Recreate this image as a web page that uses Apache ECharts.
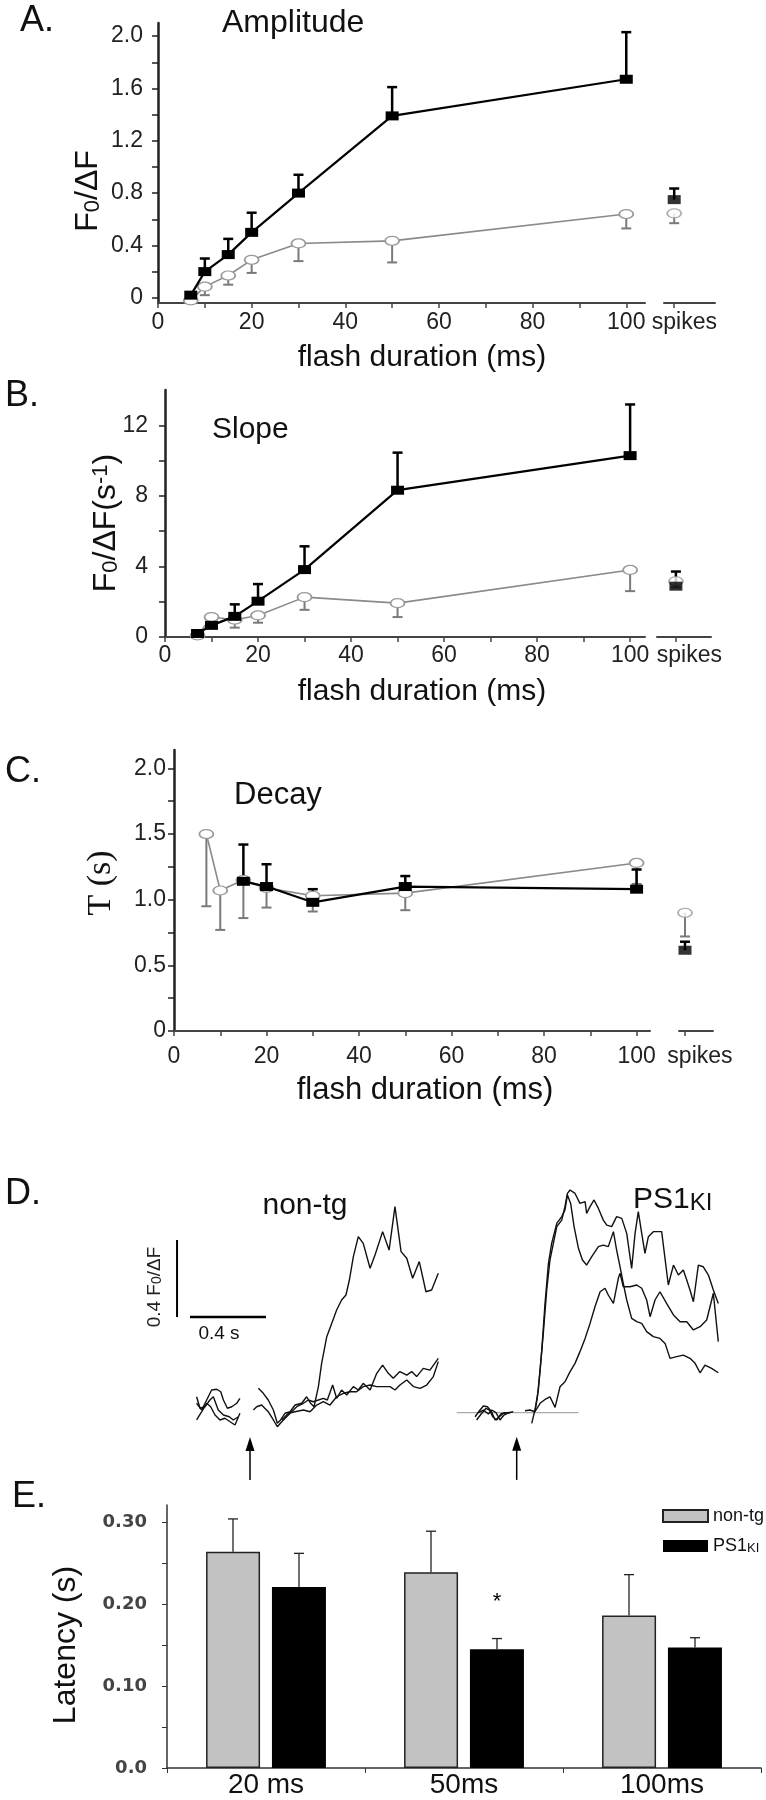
<!DOCTYPE html>
<html><head><meta charset="utf-8">
<script src="https://cdn.jsdelivr.net/npm/echarts@6/dist/echarts.min.js"></script>
<style>html,body{margin:0;padding:0;background:#fff}#c{width:766px;height:1800px}</style>
</head><body><div id="c"></div>
<script>
// ---------------- DATA ----------------
// Panel A: amplitude
var durA = [7, 10, 15, 20, 30, 50, 100];
var ampKI = [0.02, 0.20, 0.33, 0.50, 0.80, 1.39, 1.67];
var ampKIsem = [0.01, 0.10, 0.12, 0.15, 0.14, 0.22, 0.36];
var ampNT = [-0.02, 0.085, 0.17, 0.29, 0.415, 0.435, 0.64];
var ampNTsem = [0.02, 0.065, 0.07, 0.10, 0.135, 0.165, 0.11];
var ampSpkKI = 0.75, ampSpkKIsem = 0.085;
var ampSpkNT = 0.645, ampSpkNTsem = 0.075;
// Panel B: slope
var durB = [7, 10, 15, 20, 30, 50, 100];
var slopeKI = [0.2, 0.66, 1.17, 2.03, 3.82, 8.32, 10.28];
var slopeKIsem = [0.1, 0.43, 0.68, 0.97, 1.32, 2.13, 2.90];
var slopeNT = [0.09, 1.13, 0.98, 1.22, 2.26, 1.92, 3.80];
var slopeNTsem = [0.05, 0.5, 0.45, 0.41, 0.72, 0.79, 1.2];
var slopeSpkKI = 2.88, slopeSpkKIsem = 0.83;
var slopeSpkNT = 3.16, slopeSpkNTsem = 0.35;
// Panel C: decay
var durCNT = [7, 10, 15, 20, 30, 50, 100];
var decayNT = [1.50, 1.07, 1.15, 1.09, 1.03, 1.05, 1.28];
var decayNTsem = [0.55, 0.30, 0.29, 0.15, 0.12, 0.13, 0.16];
var durCKI = [15, 20, 30, 50, 100];
var decayKI = [1.14, 1.10, 0.98, 1.10, 1.08];
var decayKIsem = [0.28, 0.17, 0.10, 0.08, 0.15];
var decaySpkNT = 0.90, decaySpkNTsem = 0.18;
var decaySpkKI = 0.615, decaySpkKIsem = 0.065;
// tick values
var xTickLabels = [0, 20, 40, 60, 80, 100];
var xTicks = [0, 10, 20, 30, 40, 50, 60, 70, 80, 90, 100];
var yLabelsA = [0, 0.4, 0.8, 1.2, 1.6, 2.0];
var yTicksA = [0, 0.2, 0.4, 0.6, 0.8, 1.0, 1.2, 1.4, 1.6, 1.8, 2.0];
var yLabelsB = [0, 4, 8, 12];
var yTicksB = [0, 2, 4, 6, 8, 10, 12];
var yLabelsC = [0, 0.5, 1.0, 1.5, 2.0];
var yTicksC = [0, 0.25, 0.5, 0.75, 1.0, 1.25, 1.5, 1.75, 2.0];
// Panel D: example traces (time s from flash, F0/dF)
var ntL1 = [[-0.281,0.035],[-0.254,0],[-0.228,0.052],[-0.202,0.104],[-0.175,0.108],[-0.154,0.095],[-0.140,0.052],[-0.119,0.009],[-0.096,0.017],[-0.070,0.035],[-0.053,0.061]];
var ntL2 = [[-0.281,-0.052],[-0.254,-0.009],[-0.228,0.035],[-0.207,0.017],[-0.184,-0.026],[-0.158,-0.052],[-0.132,-0.043],[-0.105,-0.061],[-0.079,-0.078],[-0.053,-0.017]];
var ntL3 = [[-0.281,0.069],[-0.263,0.009],[-0.237,0.017],[-0.211,0.052],[-0.193,0.069],[-0.167,0],[-0.140,-0.026],[-0.109,-0.035],[-0.088,-0.052],[-0.061,-0.035]];
var ntR1 = [[0.044,0.113],[0.070,0.087],[0.096,0.052],[0.123,0],[0.144,-0.069],[0.161,-0.052],[0.184,-0.017],[0.211,-0.009],[0.237,0.026],[0.272,0.035],[0.298,0.069],[0.319,0.035],[0.337,0.017],[0.360,0.122],[0.377,0.243],[0.404,0.382],[0.430,0.451],[0.456,0.521],[0.482,0.573],[0.505,0.599],[0.523,0.677],[0.544,0.799],[0.570,0.903],[0.596,0.868],[0.632,0.738],[0.658,0.807],[0.698,0.929],[0.732,0.833],[0.763,1.059],[0.795,0.825],[0.825,0.790],[0.856,0.686],[0.891,0.773],[0.926,0.616],[0.956,0.625],[0.991,0.712]];
var ntR2 = [[0.018,0],[0.035,0.017],[0.061,0.026],[0.096,-0.009],[0.123,-0.052],[0.144,-0.087],[0.167,-0.061],[0.193,-0.035],[0.219,-0.009],[0.246,0.017],[0.281,0.035],[0.307,0.052],[0.333,0.043],[0.360,0.052],[0.386,0.061],[0.407,0.052],[0.435,0.130],[0.456,0.061],[0.482,0.104],[0.509,0.078],[0.544,0.122],[0.570,0.104],[0.596,0.139],[0.632,0.104],[0.667,0.191],[0.698,0.234],[0.728,0.191],[0.754,0.165],[0.789,0.200],[0.825,0.182],[0.851,0.200],[0.877,0.174],[0.912,0.217],[0.947,0.208],[0.991,0.269]];
var ntR3 = [[0.167,-0.052],[0.202,-0.017],[0.237,-0.009],[0.281,0],[0.316,-0.009],[0.351,0.026],[0.386,0.043],[0.421,0.026],[0.456,0.069],[0.491,0.087],[0.526,0.095],[0.561,0.095],[0.596,0.122],[0.632,0.130],[0.667,0.122],[0.702,0.122],[0.737,0.122],[0.763,0.104],[0.789,0.130],[0.825,0.156],[0.860,0.122],[0.895,0.113],[0.930,0.130],[0.965,0.174],[0.991,0.252]];
var psL1 = [[-0.219,-0.021],[-0.193,0.014],[-0.175,0.035],[-0.154,0.031],[-0.132,0.005],[-0.114,-0.038],[-0.091,-0.021],[-0.070,-0.003],[-0.044,0],[-0.018,0.005]];
var psL2 = [[-0.211,-0.038],[-0.184,-0.003],[-0.161,0.023],[-0.144,0.014],[-0.126,-0.021],[-0.105,-0.038],[-0.084,-0.007],[-0.061,0],[-0.035,0]];
var psL3 = [[-0.202,0],[-0.175,0.014],[-0.149,-0.007],[-0.132,0.014],[-0.109,0],[-0.088,-0.038],[-0.067,-0.012],[-0.039,0.002]];
var psR1 = [[0.044,0.010],[0.070,0.014],[0.096,0.005],[0.109,0.083],[0.123,0.222],[0.140,0.413],[0.158,0.639],[0.175,0.795],[0.193,0.882],[0.211,0.969],[0.237,1.003],[0.254,1.073],[0.267,1.142],[0.281,1.160],[0.307,1.142],[0.333,1.090],[0.360,1.099],[0.368,1.038],[0.386,1.073],[0.407,1.108],[0.430,1.064],[0.456,1.003],[0.474,0.977],[0.500,0.969],[0.526,1.021],[0.553,1.012],[0.579,0.934],[0.605,0.752],[0.623,0.934],[0.640,1.047],[0.658,0.934],[0.675,0.830],[0.693,0.917],[0.719,0.943],[0.763,0.943],[0.798,0.665],[0.825,0.769],[0.851,0.717],[0.877,0.743],[0.895,0.691],[0.912,0.639],[0.930,0.578],[0.956,0.769],[0.982,0.760],[1.009,0.717],[1.035,0.639],[1.061,0.569]];
var psR2 = [[0.079,-0.056],[0.096,0.014],[0.114,0.118],[0.132,0.326],[0.149,0.569],[0.167,0.778],[0.184,0.882],[0.211,0.986],[0.237,1.021],[0.254,1.056],[0.267,1.134],[0.284,1.090],[0.302,0.969],[0.325,0.856],[0.346,0.795],[0.368,0.769],[0.395,0.813],[0.430,0.865],[0.456,0.873],[0.482,0.865],[0.509,0.943],[0.526,0.847],[0.544,0.760],[0.561,0.674],[0.579,0.587],[0.605,0.491],[0.632,0.474],[0.658,0.465],[0.684,0.422],[0.719,0.396],[0.754,0.387],[0.781,0.361],[0.807,0.283],[0.842,0.292],[0.877,0.300],[0.912,0.283],[0.939,0.257],[0.965,0.208],[0.991,0.248],[1.026,0.231],[1.061,0.208]];
var psR3 = [[0.096,0.005],[0.123,0.049],[0.149,0.069],[0.175,0.083],[0.202,0.028],[0.228,0.135],[0.254,0.161],[0.281,0.214],[0.307,0.257],[0.333,0.318],[0.360,0.387],[0.386,0.465],[0.412,0.552],[0.439,0.630],[0.465,0.648],[0.482,0.613],[0.509,0.569],[0.535,0.700],[0.544,0.726],[0.561,0.656],[0.596,0.656],[0.632,0.665],[0.658,0.648],[0.684,0.587],[0.702,0.500],[0.728,0.587],[0.754,0.630],[0.789,0.569],[0.825,0.509],[0.860,0.474],[0.895,0.474],[0.930,0.431],[0.965,0.448],[1.000,0.483],[1.035,0.622],[1.061,0.370]];
var psBaseline = [[-0.316,0],[0.325,0]];
var scaleAmp = 0.4, scaleTime = 0.4;
// Panel E: latency
var latCats = ['20 ms', '50ms', '100ms'];
var latNT = [0.264, 0.239, 0.186];
var latNTsem = [0.040, 0.050, 0.050];
var latKI = [0.221, 0.145, 0.147];
var latKIsem = [0.041, 0.013, 0.012];
var yLabelsE = [0, 0.1, 0.2, 0.3];
var yTicksE = [0, 0.05, 0.1, 0.15, 0.2, 0.25, 0.3];

// ---------------- HELPERS ----------------
var FONT = "'Liberation Sans', Arial, Helvetica, sans-serif";
function pairs(xs, ys) { return xs.map(function (x, i) { return [x, ys[i]]; }); }
function errs(xs, ys, sems, dir) { return xs.map(function (x, i) { return [x, ys[i], ys[i] + dir * sems[i]]; }); }
function errBar(color, width, cap, dx) {
  return function (params, api) {
    var p0 = api.coord([api.value(0), api.value(1)]);
    var p1 = api.coord([api.value(0), api.value(2)]);
    var x = p0[0] + (dx || 0);
    return { type: 'group', children: [
      { type: 'line', shape: { x1: x, y1: p0[1], x2: x, y2: p1[1] }, style: { stroke: color, lineWidth: width } },
      { type: 'line', shape: { x1: x - cap, y1: p1[1], x2: x + cap, y2: p1[1] }, style: { stroke: color, lineWidth: width } }
    ] };
  };
}
var KI_SYM = { symbol: 'rect', symbolSize: [13, 9], itemStyle: { color: '#000' } };
var NT_SYM = { symbol: 'circle', symbolSize: [14, 9], itemStyle: { color: '#fff', borderColor: '#9a9a9a', borderWidth: 1.5 } };

function lineKI(g, data) {
  return { type: 'line', xAxisIndex: g, yAxisIndex: g, data: data, symbol: KI_SYM.symbol, symbolSize: KI_SYM.symbolSize,
    itemStyle: KI_SYM.itemStyle, lineStyle: { color: '#000', width: 2.2 }, z: 5, silent: true };
}
function lineNT(g, data) {
  return { type: 'line', xAxisIndex: g, yAxisIndex: g, data: data, symbol: NT_SYM.symbol, symbolSize: NT_SYM.symbolSize,
    itemStyle: NT_SYM.itemStyle, lineStyle: { color: '#8a8a8a', width: 1.6 }, z: 4, silent: true };
}
function errSeries(g, data, color, width, cap, z) {
  return { type: 'custom', xAxisIndex: g, yAxisIndex: g, data: data, renderItem: errBar(color, width, cap), z: z, silent: true };
}
function scatterSym(g, val, sym, z) {
  return { type: 'scatter', xAxisIndex: g, yAxisIndex: g, data: [[0, val]], symbol: sym.symbol, symbolSize: sym.symbolSize, itemStyle: sym.itemStyle, z: z, silent: true };
}
function mainX(g, max, margin) {
  return { type: 'value', gridIndex: g, min: 0, max: max,
    axisLine: { show: true, onZero: false, lineStyle: { color: '#444', width: 2 } },
    axisTick: { show: true, customValues: xTicks, length: 5, lineStyle: { color: '#444', width: 1.5 } },
    axisLabel: { customValues: xTickLabels, margin: margin, fontSize: 23, color: '#222', fontFamily: FONT },
    splitLine: { show: false } };
}
function spikeX(g, min, max, margin) {
  return { type: 'value', gridIndex: g, min: min, max: max,
    axisLine: { show: true, onZero: false, lineStyle: { color: '#444', width: 2 } },
    axisTick: { show: true, customValues: [0], length: 5, lineStyle: { color: '#444', width: 1.5 } },
    axisLabel: { customValues: [1], margin: margin, fontSize: 23, color: '#222', fontFamily: FONT, formatter: function () { return 'spikes'; } },
    splitLine: { show: false } };
}
function mainY(g, min, max, labels, ticks, margin, fmt) {
  return { type: 'value', gridIndex: g, min: min, max: max,
    axisLine: { show: true, onZero: false, lineStyle: { color: '#222', width: 2.5 } },
    axisTick: { show: true, customValues: ticks, length: 6, lineStyle: { color: '#222', width: 1.5 } },
    axisLabel: { customValues: labels, margin: margin, fontSize: 23, color: '#222', fontFamily: FONT, formatter: fmt },
    splitLine: { show: false } };
}
function hiddenAxis(g, min, max) { return { type: 'value', gridIndex: g, min: min, max: max, show: false }; }
function traceLine(g, data) {
  return { type: 'line', xAxisIndex: g, yAxisIndex: g, data: data, symbol: 'none', lineStyle: { color: '#111', width: 1.4 }, silent: true, clip: false };
}
function arrowSeries(g, data) {
  return { type: 'custom', xAxisIndex: g, yAxisIndex: g, data: data, silent: true, clip: false,
    renderItem: function (params, api) {
      var b = api.coord([api.value(0), api.value(1)]);
      var t = api.coord([api.value(0), api.value(2)]);
      return { type: 'group', children: [
        { type: 'line', shape: { x1: b[0], y1: b[1], x2: t[0], y2: t[1] + 10 }, style: { stroke: '#000', lineWidth: 1.5 } },
        { type: 'polygon', shape: { points: [[t[0], t[1]], [t[0] - 4.5, t[1] + 14], [t[0] + 4.5, t[1] + 14]] }, style: { fill: '#000' } }
      ] };
    } };
}
function fmt1(v) { return v === 0 ? '0' : v.toFixed(1); }
function fmtInt(v) { return String(Math.round(v)); }
function fmtC(v) { return v === 0 ? '0' : v.toFixed(1); }
function fmtE(v) { return v === 0 ? '0.0' : v.toFixed(2); }

// ---------------- CHART ----------------
var chart = echarts.init(document.getElementById('c'), null, { renderer: 'canvas' });

var grids = [
  { left: 158, top: 23, width: 487, height: 280 },   // 0 A main
  { left: 664, top: 23, width: 51, height: 280 },    // 1 A spikes
  { left: 165, top: 390, width: 480, height: 247 },  // 2 B main
  { left: 657, top: 390, width: 54, height: 247 },   // 3 B spikes
  { left: 174, top: 750, width: 476, height: 281 },  // 4 C main
  { left: 679, top: 750, width: 34, height: 281 },   // 5 C spikes
  { left: 174, top: 1179.6, width: 285, height: 307.2 }, // 6 D non-tg
  { left: 440.7, top: 1182.3, width: 285, height: 307.2 }, // 7 D PS1KI
  { left: 167, top: 1505, width: 594, height: 263 }  // 8 E
];

var xAxes = [
  mainX(0, 104, 8), spikeX(1, -1, 4, 8),
  mainX(2, 103.2, 7), spikeX(3, -1.4, 2.6, 7),
  mainX(4, 102.9, 14), spikeX(5, -0.4, 1.87, 14),
  hiddenAxis(6, -0.4, 1.1), hiddenAxis(7, -0.4, 1.1),
  { type: 'category', gridIndex: 8, data: latCats,
    axisLine: { lineStyle: { color: '#333', width: 1.5 } },
    axisTick: { show: true, length: 5, lineStyle: { color: '#333' } },
    axisLabel: { fontSize: 28, margin: 3, color: '#111', fontFamily: FONT } }
];
var yAxes = [
  mainY(0, -0.04, 2.1, yLabelsA, yTicksA, 15, fmt1), hiddenAxis(1, -0.04, 2.1),
  mainY(2, 0, 14, yLabelsB, yTicksB, 17, fmtInt), hiddenAxis(3, 0, 14),
  mainY(4, 0, 2.14, yLabelsC, yTicksC, 8, fmtC), hiddenAxis(5, 0, 2.14),
  hiddenAxis(6, -0.4, 1.2), hiddenAxis(7, -0.4, 1.2),
  { type: 'value', gridIndex: 8, min: 0, max: 0.321,
    axisLine: { show: true, lineStyle: { color: '#333', width: 1.5 } },
    axisTick: { show: true, customValues: yTicksE, length: 5, lineStyle: { color: '#333' } },
    axisLabel: { customValues: yLabelsE, margin: 20, fontSize: 18, fontWeight: 'bold', color: '#444', fontFamily: "'DejaVu Sans', Verdana, sans-serif", formatter: fmtE },
    splitLine: { show: false } }
];

var series = [];
// Panel A
series.push(errSeries(0, errs(durA, ampNT, ampNTsem, -1), '#7a7a7a', 2, 5, 2));
series.push(errSeries(0, errs(durA, ampKI, ampKIsem, 1), '#000', 2.5, 5, 3));
series.push(lineNT(0, pairs(durA, ampNT)));
series.push(lineKI(0, pairs(durA, ampKI)));
series.push(errSeries(1, [[0, ampSpkNT, ampSpkNT - ampSpkNTsem]], '#7a7a7a', 2, 5, 2));
series.push(errSeries(1, [[0, ampSpkKI, ampSpkKI + ampSpkKIsem]], '#000', 2.5, 5, 3));
series.push(scatterSym(1, ampSpkNT, NT_SYM, 4));
series.push(scatterSym(1, ampSpkKI, KI_SYM, 5));
// Panel B
series.push(errSeries(2, errs(durB, slopeNT, slopeNTsem, -1), '#7a7a7a', 2, 5, 2));
series.push(errSeries(2, errs(durB, slopeKI, slopeKIsem, 1), '#000', 2.5, 5, 3));
series.push(lineNT(2, pairs(durB, slopeNT)));
series.push(lineKI(2, pairs(durB, slopeKI)));
series.push(errSeries(3, [[0, slopeSpkNT, slopeSpkNT - slopeSpkNTsem]], '#7a7a7a', 2, 5, 2));
series.push(errSeries(3, [[0, slopeSpkKI, slopeSpkKI + slopeSpkKIsem]], '#000', 2.5, 5, 3));
series.push(scatterSym(3, slopeSpkNT, NT_SYM, 4));
series.push(scatterSym(3, slopeSpkKI, KI_SYM, 5));
// Panel C
series.push(errSeries(4, errs(durCNT, decayNT, decayNTsem, -1), '#7a7a7a', 2, 5, 2));
series.push(errSeries(4, errs(durCKI, decayKI, decayKIsem, 1), '#000', 2.5, 5, 3));
series.push(lineNT(4, pairs(durCNT, decayNT)));
series.push(lineKI(4, pairs(durCKI, decayKI)));
series.push(errSeries(5, [[0, decaySpkNT, decaySpkNT - decaySpkNTsem]], '#7a7a7a', 2, 5, 2));
series.push(errSeries(5, [[0, decaySpkKI, decaySpkKI + decaySpkKIsem]], '#000', 2.5, 5, 3));
series.push(scatterSym(5, decaySpkNT, NT_SYM, 4));
series.push(scatterSym(5, decaySpkKI, KI_SYM, 5));
// Panel D traces
[ntL1, ntL2, ntL3, ntR1, ntR2, ntR3].forEach(function (d) { series.push(traceLine(6, d)); });
[psL1, psL2, psL3, psR1, psR2, psR3].forEach(function (d) { series.push(traceLine(7, d)); });
series.push({ type: 'line', xAxisIndex: 7, yAxisIndex: 7, data: psBaseline, symbol: 'none', lineStyle: { color: '#aaa', width: 1.2 }, silent: true, z: 1 });
// scale bars (non-tg coordinate system)
var sbT = -0.384, sbF = 0.485;
series.push({ type: 'line', xAxisIndex: 6, yAxisIndex: 6, clip: false, data: [[sbT, sbF], [sbT, sbF + scaleAmp]], symbol: 'none', lineStyle: { color: '#000', width: 2 }, silent: true });
series.push({ type: 'line', xAxisIndex: 6, yAxisIndex: 6, clip: false, data: [[sbT + 0.068, sbF], [sbT + 0.068 + scaleTime, sbF]], symbol: 'none', lineStyle: { color: '#000', width: 2.5 }, silent: true });
// flash arrows
series.push(arrowSeries(6, [[0, -0.365, -0.14]]));
series.push(arrowSeries(7, [[0, -0.35, -0.125]]));
// Panel E bars
series.push({ name: 'non-tg', type: 'bar', xAxisIndex: 8, yAxisIndex: 8, data: latNT, barWidth: 54, barGap: '22%',
  itemStyle: { color: '#c2c2c2', borderColor: '#222', borderWidth: 1.5 }, silent: true });
series.push({ name: 'PS1KI', type: 'bar', xAxisIndex: 8, yAxisIndex: 8, barWidth: 54, barGap: '22%',
  data: latKI.map(function (v, i) { return i === 1 ? { value: v, label: { show: true, position: 'top', distance: 36, formatter: '*', fontSize: 22, color: '#000', fontFamily: FONT } } : v; }),
  itemStyle: { color: '#000' }, silent: true });
series.push({ type: 'custom', xAxisIndex: 8, yAxisIndex: 8, data: latNT.map(function (v, i) { return [i, v, v + latNTsem[i]]; }), renderItem: errBar('#222', 1.3, 5, -33), z: 3, silent: true });
series.push({ type: 'custom', xAxisIndex: 8, yAxisIndex: 8, data: latKI.map(function (v, i) { return [i, v, v + latKIsem[i]]; }), renderItem: errBar('#222', 1.3, 5, 33), z: 3, silent: true });

function txt(x, y, text, size, opts) {
  opts = opts || {};
  return { type: 'text', x: x, y: y, rotation: opts.rot || 0, z: 100, silent: true,
    style: { text: text, fontSize: size, fontFamily: opts.family || FONT, fill: opts.fill || '#111', fontWeight: opts.weight || 'normal',
      align: opts.align || 'left', verticalAlign: 'middle', rich: opts.rich } };
}
var R90 = Math.PI / 2;
var graphics = [
  txt(20, 21, 'A.', 36), txt(5, 396, 'B.', 36), txt(5, 772, 'C.', 36), txt(5, 1194, 'D.', 36), txt(12, 1497, 'E.', 36),
  txt(222, 23, 'Amplitude', 32), txt(212, 430, 'Slope', 30), txt(234, 795, 'Decay', 31),
  txt(422, 358, 'flash duration (ms)', 30, { align: 'center' }),
  txt(422, 692, 'flash duration (ms)', 30, { align: 'center' }),
  txt(425, 1090, 'flash duration (ms)', 31, { align: 'center' }),
  txt(88, 191, '{a|F}{s|0}{a|/ΔF}', 32, { rot: R90, align: 'center', rich: {
    a: { fontSize: 32, fontFamily: FONT, fill: '#111' }, s: { fontSize: 22, fontFamily: FONT, fill: '#111', verticalAlign: 'bottom' } } }),
  txt(106, 523, '{a|F}{s|0}{a|/ΔF(s}{p|-1}{a|)}', 32, { rot: R90, align: 'center', rich: {
    a: { fontSize: 32, fontFamily: FONT, fill: '#111' }, s: { fontSize: 22, fontFamily: FONT, fill: '#111', verticalAlign: 'bottom' },
    p: { fontSize: 22, fontFamily: FONT, fill: '#111', verticalAlign: 'top' } } }),
  txt(101, 883, 'T (s)', 34, { rot: R90, align: 'center', family: "'Liberation Serif', 'Times New Roman', serif" }),
  txt(66, 1645, 'Latency (s)', 32, { rot: R90, align: 'center' }),
  txt(305, 1206, 'non-tg', 30, { align: 'center' }),
  txt(633, 1200, '{a|PS1}{s|KI}', 30, { rich: {
    a: { fontSize: 30, fontFamily: FONT, fill: '#111' }, s: { fontSize: 24, fontFamily: FONT, fill: '#111', verticalAlign: 'bottom' } } }),
  txt(155, 1287, '{a|0.4 F}{s|0}{a|/ΔF}', 19, { rot: R90, align: 'center', rich: {
    a: { fontSize: 19, fontFamily: FONT, fill: '#222' }, s: { fontSize: 14, fontFamily: FONT, fill: '#222', verticalAlign: 'bottom' } } }),
  txt(219, 1334, '0.4 s', 19, { align: 'center' })
];

chart.setOption({
  animation: false,
  backgroundColor: '#fff',
  grid: grids,
  xAxis: xAxes,
  yAxis: yAxes,
  legend: { data: ['non-tg', 'PS1KI'], orient: 'vertical', left: 657, top: 1502, itemWidth: 45, itemHeight: 12, itemGap: 12,
    icon: 'rect', selectedMode: false,
    formatter: function (n) { return n === 'PS1KI' ? '{a|PS1}{s|KI}' : '{a|' + n + '}'; },
    textStyle: { fontFamily: FONT, color: '#111', rich: {
      a: { fontSize: 18, fontFamily: FONT, color: '#111' }, s: { fontSize: 13, fontFamily: FONT, color: '#111', verticalAlign: 'bottom' } } } },
  graphic: graphics,
  series: series
});
</script></body></html>
